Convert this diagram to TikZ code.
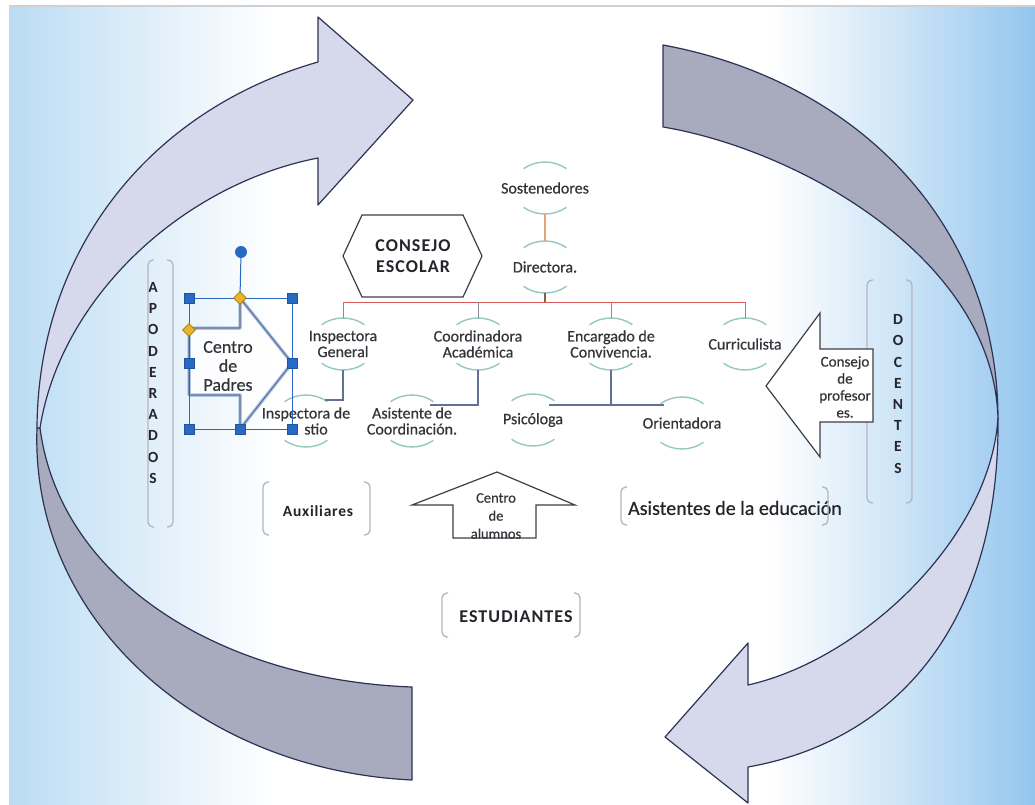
\documentclass[tikz,border=0pt]{standalone}
\usepackage{fontspec}
\setmainfont{Carlito}
\usetikzlibrary{calc}

\definecolor{bgleft}{RGB}{186,219,243}
\definecolor{bgright}{RGB}{148,197,238}
\definecolor{bgleftmid}{RGB}{214,234,248}
\definecolor{bgrightmid}{RGB}{200,226,246}
\definecolor{framegray}{RGB}{205,208,212}
\definecolor{ringlav}{RGB}{214,217,236}
\definecolor{ringgray}{RGB}{168,170,190}
\definecolor{ringedge}{RGB}{45,50,85}
\definecolor{ringteal}{RGB}{150,200,192}
\definecolor{orgtext}{RGB}{52,52,58}
\definecolor{darktext}{RGB}{36,36,42}
\definecolor{orangeline}{RGB}{226,165,115}
\definecolor{stemcol}{RGB}{140,96,62}
\definecolor{buscol}{RGB}{218,88,88}
\definecolor{dropcol}{RGB}{135,140,150}
\definecolor{subcol}{RGB}{98,112,148}
\definecolor{shapeedge}{RGB}{62,62,72}
\definecolor{brkcol}{RGB}{178,182,192}
\definecolor{selblue}{RGB}{40,105,196}
\definecolor{glowblue}{RGB}{170,198,232}
\definecolor{adjfill}{RGB}{232,180,40}
\definecolor{adjedge}{RGB}{168,118,20}

\pgfdeclarehorizontalshading{bgshade}{100bp}{color(0bp)=(bgleft); color(25bp)=(bgleft); color(30bp)=(bgleftmid); color(38bp)=(white); color(62bp)=(white); color(69bp)=(bgrightmid); color(75bp)=(bgright); color(100bp)=(bgright)}

\tikzset{
  ring/.style={ringteal, line width=1.4},
  orgnode/.style={rectangle, minimum width=64, minimum height=52, inner sep=0, align=center, text=orgtext, font=\fontsize{16}{16}\selectfont\addfontfeatures{FakeBold=0.5}},
  orgline/.style={orangeline, line width=1.6},
  stemline/.style={stemcol, line width=2.6},
  busline/.style={buscol, line width=1.3},
  dropline/.style={dropcol, line width=1},
  subline/.style={subcol, line width=1.2},
  bigarrow/.style={draw=ringedge, line width=1.2, line join=round},
  shapeline/.style={draw=shapeedge, fill=white, line width=1.2},
  boldlabel/.style={align=center, inner sep=0, text=darktext, font=\fontsize{18}{21}\selectfont\bfseries\addfontfeatures{LetterSpace=6}},
  smalllabel/.style={align=center, inner sep=0, text=orgtext, font=\fontsize{15}{17}\selectfont\addfontfeatures{FakeBold=0.5}},
  vletters/.style={align=center, inner sep=0, text=darktext, font=\fontsize{15.5}{21.2}\selectfont\bfseries},
  brkframe/.style={rectangle, inner sep=0, outer sep=0},
  brk/.style={brkcol, line width=1.3, rounded corners=5pt},
  padreshape/.style={fill=white, fill opacity=0.85, draw=glowblue, line width=3.5, line join=round,
    postaction={draw=subcol, line width=1.1, draw opacity=1}},
  selline/.style={selblue, line width=1},
  handle/.style={rectangle, fill=selblue, draw=selblue!80!black, line width=0.4, minimum size=10, inner sep=0},
  rothandle/.style={circle, fill=selblue, minimum size=12, inner sep=0},
  adjhandle/.style={diamond, fill=adjfill, draw=adjedge, line width=0.6, minimum size=13, inner sep=0, shape aspect=1},
}

\newcommand{\ringarcs}[1]{%
  \draw[ring] ([shift={(21.4pt,19.3pt)}]#1.center) arc[start angle=48,end angle=132,x radius=32pt,y radius=26pt];
  \draw[ring] ([shift={(-21.4pt,-19.3pt)}]#1.center) arc[start angle=228,end angle=312,x radius=32pt,y radius=26pt];}
\newcommand{\drawbrackets}[1]{%
  \draw[brk] ([xshift=6pt]#1.north west) -- (#1.north west) -- (#1.south west) -- ([xshift=6pt]#1.south west);
  \draw[brk] ([xshift=-6pt]#1.north east) -- (#1.north east) -- (#1.south east) -- ([xshift=-6pt]#1.south east);}

\usetikzlibrary{shapes.geometric}

\begin{document}
\begin{tikzpicture}[x=1pt,y=-1pt]
\useasboundingbox (0,0) rectangle (1035,805);
% background
\fill[white] (0,0) rectangle (1035,805);
\shade[shading=bgshade] (9,6) rectangle (1035,805);
\draw[framegray, line width=1.6] (9,6) -- (1035,6);

% ring of curved arrows
\filldraw[bigarrow, fill=ringgray] (663,45) .. controls (853,80) and (998,220) .. (998,420)
  .. controls (995,260) and (800,150) .. (663,127) -- cycle;
\filldraw[bigarrow, fill=ringlav] (998,418) .. controls (1000,620) and (900,740) .. (748,767)
  -- (748,803) -- (665,737) -- (748,643) -- (748,685)
  .. controls (860,660) and (990,540) .. (998,418) -- cycle;
\filldraw[bigarrow, fill=ringgray] (37,428) .. controls (30,620) and (200,770) .. (412,780)
  -- (412,687) .. controls (220,680) and (60,580) .. (40,428) -- cycle;
\filldraw[bigarrow, fill=ringlav] (37,428) .. controls (38,250) and (150,110) .. (318,62)
  -- (318,17) -- (413,100) -- (318,205) -- (318,158)
  .. controls (180,185) and (60,300) .. (40,428) -- cycle;

% side brackets
\node[brkframe, minimum width=25, minimum height=267] (apod) at (160.5,393.5) {};
\node[vletters] (apodtxt) at (153,383) {A\\P\\O\\D\\E\\R\\A\\D\\O\\S};
\node[brkframe, minimum width=45, minimum height=223] (doc) at (889.5,391.5) {};
\node[vletters] (doctxt) at (898,394) {D\\O\\C\\E\\N\\T\\E\\S};
\node[brkframe, minimum width=107, minimum height=53] (aux) at (316.5,508.5) {};
\node[boldlabel, font=\fontsize{15.5}{18}\selectfont\bfseries\addfontfeatures{LetterSpace=5}] (auxtxt) at (318,511) {Auxiliares};
\node[brkframe, minimum width=207, minimum height=38] (asied) at (724.5,506) {};
\node[align=center, inner sep=0, text=darktext, font=\fontsize{20}{22}\selectfont\addfontfeatures{FakeBold=0.5}] (asiedtxt) at (735,508) {Asistentes de la educación};
\node[brkframe, minimum width=138, minimum height=44] (estu) at (511,615) {};
\node[boldlabel] (estutxt) at (516,617) {ESTUDIANTES};
\foreach \b in {apod,doc,aux,asied,estu} {\drawbrackets{\b}}

% consejo escolar
\coordinate (cesc-c) at (413,256);
\filldraw[shapeline] ($(cesc-c)+(-70,0)$) -- ($(cesc-c)+(-51,-41)$) -- ($(cesc-c)+(50,-41)$)
  -- ($(cesc-c)+(69,0)$) -- ($(cesc-c)+(50,41)$) -- ($(cesc-c)+(-51,41)$) -- cycle;
\node[boldlabel] (cesc) at (cesc-c) {CONSEJO\\ESCOLAR};

% org chart
\node[orgnode] (sost) at (545,188) {Sostenedores};
\node[orgnode] (dir) at (545,267) {Directora.};
\node[orgnode] (igen) at (343,344) {Inspectora\\General};
\node[orgnode] (coord) at (478,344) {Coordinadora\\Académica};
\node[orgnode] (enc) at (611,344) {Encargado de\\Convivencia.};
\node[orgnode] (curr) at (745,344) {Curriculista};
\node[orgnode] (ipat) at (306,421) {Inspectora de\\\hspace*{20pt}stio};
\node[orgnode] (asis) at (412,421) {Asistente de\\Coordinación.};
\node[orgnode] (psic) at (533,420) {Psicóloga};
\node[orgnode] (orie) at (682,423) {Orientadora};
\foreach \n in {sost,dir,igen,coord,enc,curr,ipat,asis,psic,orie} {\ringarcs{\n}}

\draw[orgline] (sost.south) -- (dir.north);
\draw[stemline] (dir.south) -- ++(0,9) coordinate (bus);
\draw[busline] (igen.north |- bus) -- (curr.north |- bus);
\foreach \n in {igen,coord,enc,curr} {\draw[dropline] (\n.north |- bus) -- (\n.north);}
\draw[subline] (igen.south) |- ($(ipat.center)+(19,-21)$);
\draw[subline] (coord.south) |- ($(asis.center)+(18,-16)$);
\draw[subline] (enc.south) |- ($(psic.center)+(16,-15)$);
\draw[subline] (enc.south) |- ($(orie.center)+(-18,-18)$);

% block arrows
\filldraw[shapeline] (766,386) -- (820,313) -- (820,349) -- (873,349) -- (873,422) -- (820,422) -- (820,457) -- cycle;
\node[smalllabel] (cprof) at (845,387) {Consejo\\de\\profesor\\es.};
\filldraw[shapeline] (497,472) -- (575,505) -- (536,505) -- (536,538) -- (453,538) -- (453,505) -- (412,505) -- cycle;
\node[smalllabel, font=\fontsize{14.5}{18}\selectfont\addfontfeatures{FakeBold=0.5}] (calum) at (496,516) {Centro\\de\\alumnos};

% centro de padres, selected
\path[padreshape] (189,328) -- (240,328) -- (240,298) -- (292,363) -- (240,429) -- (240,395) -- (189,395) -- cycle;
\node[smalllabel, font=\fontsize{18}{19}\selectfont\addfontfeatures{FakeBold=0.5}] (cpad) at (228,366) {Centro\\de\\Padres};
\draw[selline] (189,298) rectangle (292,429);
\draw[selline] (240,298) -- (241,253);
\foreach \p [count=\i] in {(189,298),(292,298),(189,363),(292,363),(189,429),(240,429),(292,429)}
  {\node[handle] (h\i) at \p {};}
\node[rothandle] (rot) at (241,252) {};
\node[adjhandle] (adj1) at (240,298) {};
\node[adjhandle] (adj2) at (189,330) {};
\end{tikzpicture}
\end{document}
